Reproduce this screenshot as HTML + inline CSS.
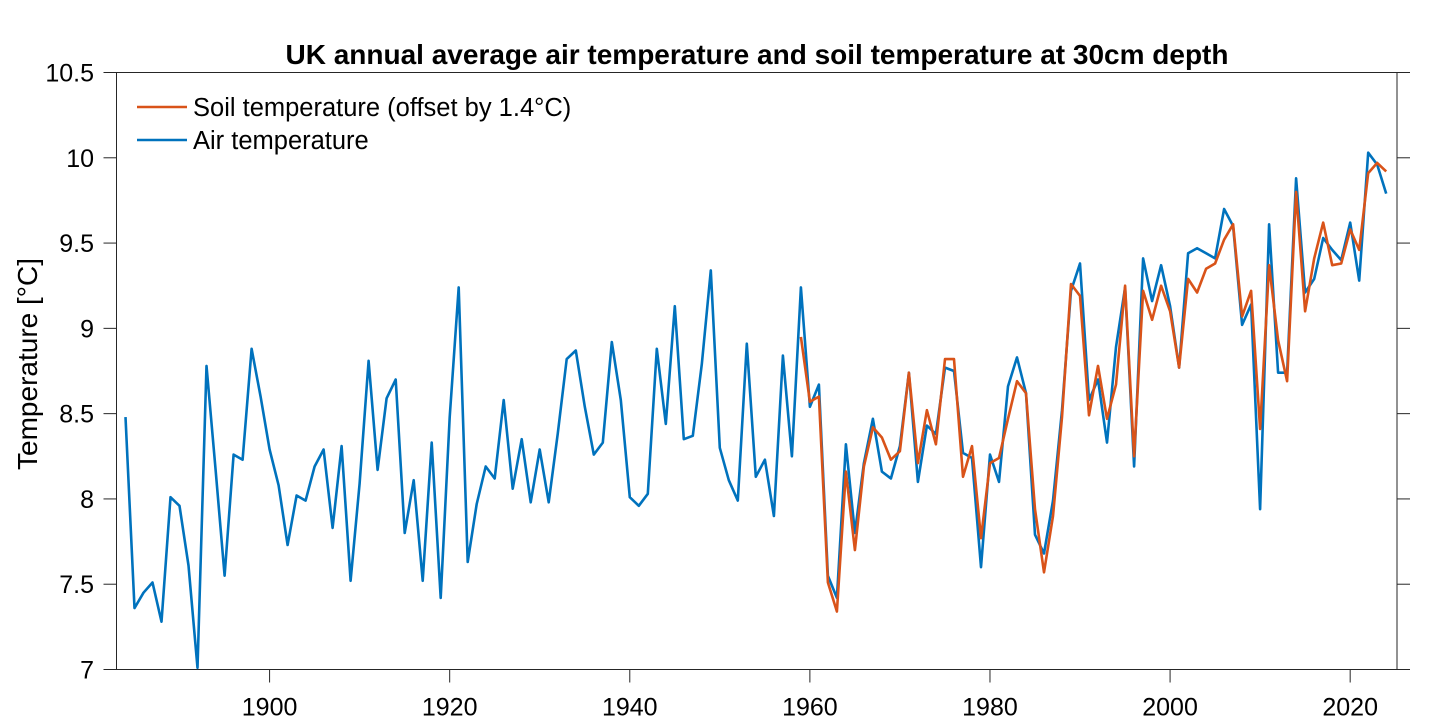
<!DOCTYPE html>
<html><head><meta charset="utf-8"><style>
body{margin:0;background:#fff;}
svg{display:block;font-family:"Liberation Sans",Arial,sans-serif;}
</style></head><body>
<svg id="chart" width="1456" height="728" viewBox="0 0 1456 728"></svg>
<script>
const airYears0 = 1884;
const airValues = [8.48,7.36,7.45,7.51,7.28,8.01,7.96,7.61,7.01,8.78,8.17,7.55,8.26,8.23,8.88,8.60,8.29,8.08,7.73,8.02,7.99,8.19,8.29,7.83,8.31,7.52,8.09,8.81,8.17,8.59,8.70,7.80,8.11,7.52,8.33,7.42,
8.48,9.24,7.63,7.97,8.19,8.12,8.58,8.06,8.35,7.98,8.29,7.98,8.38,8.82,8.87,8.54,8.26,8.33,8.92,8.58,8.01,7.96,8.03,8.88,8.44,9.13,8.35,8.37,8.79,9.34,8.30,8.11,7.99,8.91,8.13,8.23,7.90,8.84,8.25,9.24,
8.54,8.67,7.55,7.42,8.32,7.80,8.21,8.47,8.16,8.12,8.31,8.74,8.10,8.43,8.38,8.77,8.75,8.27,8.24,7.60,8.26,8.10,8.66,8.83,8.62,7.79,7.68,7.99,8.52,9.22,9.38,
8.58,8.70,8.33,8.89,9.24,8.19,9.41,9.16,9.37,9.13,8.77,9.44,9.47,9.44,9.41,9.70,9.60,9.02,9.14,7.94,9.61,8.74,8.74,9.88,9.21,9.29,9.53,9.46,9.40,9.62,9.28,10.03,9.96,9.79];
const soilYears0 = 1959;
const soilValues = [8.95,8.57,8.60,7.51,7.34,8.16,7.70,8.19,8.42,8.36,8.23,8.28,8.74,8.21,8.52,8.32,8.82,8.82,8.13,8.31,7.77,8.21,8.24,8.47,8.69,8.62,7.94,7.57,7.90,8.48,9.26,9.19,
8.49,8.78,8.47,8.67,9.25,8.25,9.22,9.05,9.25,9.10,8.77,9.29,9.21,9.35,9.38,9.52,9.61,9.07,9.22,8.41,9.37,8.93,8.69,9.80,9.10,9.41,9.62,9.37,9.38,9.58,9.46,9.91,9.97,9.92];
const xTicks = [1900,1920,1940,1960,1980,2000,2020];
const yTicks = [7,7.5,8,8.5,9,9.5,10,10.5];
const yTickLabels = ["7","7.5","8","8.5","9","9.5","10","10.5"];

const L=116.5,R=1397,T=72.5,B=669.5;
const X0=1883,X1=2025.2,Y0=7,Y1=10.5;
const sx=v=>L+(v-X0)/(X1-X0)*(R-L);
const sy=v=>B-(v-Y0)/(Y1-Y0)*(B-T);
const svg=document.getElementById('chart');
const NS='http://www.w3.org/2000/svg';
function mk(tag,attrs,parent){const e=document.createElementNS(NS,tag);for(const k in attrs)e.setAttribute(k,attrs[k]);(parent||svg).appendChild(e);return e;}

const ax=mk('rect',{x:L,y:T,width:R-L,height:B-T,fill:'none',stroke:'#262626','stroke-width':1});



xTicks.forEach(t=>{
  const x=sx(t);
  const tk=mk('line',{x1:x,x2:x,y1:B,y2:B+13,stroke:'#262626','stroke-width':1});
  
  
  const tx=mk('text',{x:x,y:B+46,'font-size':25,'text-anchor':'middle',fill:'#000'});
  tx.textContent=t;
  
  
});
yTicks.forEach((t,i)=>{
  const y=sy(t);
  const a=mk('line',{x1:L-13,x2:L,y1:y,y2:y,stroke:'#262626','stroke-width':1});
  
  
  const b=mk('line',{x1:R,x2:R+13,y1:y,y2:y,stroke:'#262626','stroke-width':1});
  
  
  const tx=mk('text',{x:94,y:y+9,'font-size':25,'text-anchor':'end',fill:'#000'});
  tx.textContent=yTickLabels[i];
  
  
});

function line(vals,y0,color,name){
  const pts=vals.map((v,i)=>sx(y0+i).toFixed(1)+','+sy(v).toFixed(1)).join(' ');
  const p=mk('polyline',{points:pts,fill:'none',stroke:color,'stroke-width':2.6,'stroke-linejoin':'round'});
  
  
}
line(airValues,airYears0,'#0072BD','air-temperature-line');
line(soilValues,soilYears0,'#D95319','soil-temperature-line');

const title=mk('text',{x:757,y:64,'font-size':28,'font-weight':'bold','text-anchor':'middle',fill:'#000'});
title.textContent='UK annual average air temperature and soil temperature at 30cm depth';



const yt=mk('text',{x:0,y:0,'font-size':28,'text-anchor':'middle',fill:'#000',transform:'translate(37,364) rotate(-90)'});
yt.textContent='Temperature [°C]';



[['Soil temperature (offset by 1.4°C)','#D95319',107],['Air temperature','#0072BD',140]].forEach(([t,c,y])=>{
  const l=mk('line',{x1:137,x2:187,y1:y,y2:y,stroke:c,'stroke-width':2.6});
  
  
  const tx=mk('text',{x:193,y:y+9,'font-size':25.5,fill:'#000'});
  tx.textContent=t;
  
  
});
</script>
</body></html>
